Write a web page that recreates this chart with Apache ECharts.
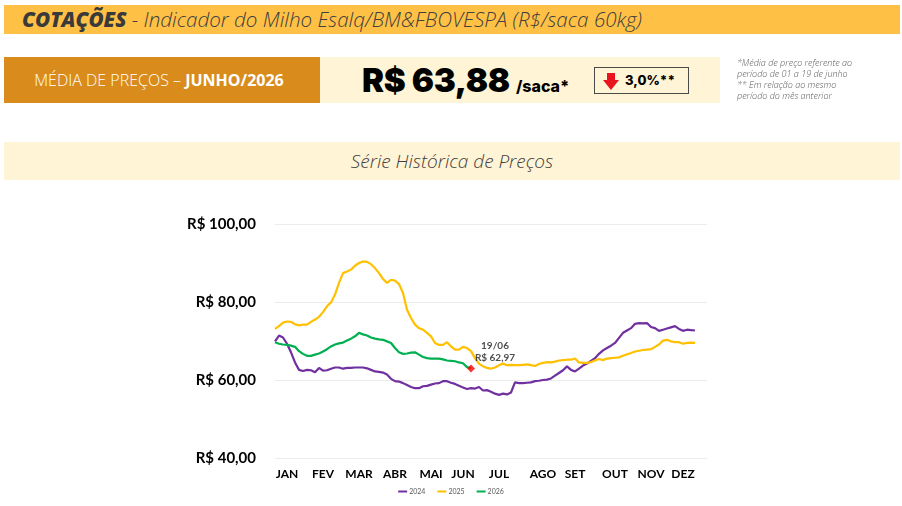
<!DOCTYPE html>
<html><head><meta charset="utf-8">
<script src="https://cdn.jsdelivr.net/npm/echarts@6/dist/echarts.min.js"></script>
<style>
html,body{margin:0;padding:0;width:902px;height:506px;background:#fff;overflow:hidden;font-family:"Open Sans",sans-serif;}
#chart{position:absolute;left:0;top:0;width:902px;height:506px;}
.abs{position:absolute;box-sizing:border-box;}
#hdr{left:4px;top:5px;width:896px;height:29px;background:#FFC046;}
#hdrText{left:22px;top:5px;height:29px;line-height:29px;font-size:20.6px;font-style:italic;color:#404040;white-space:nowrap;font-weight:300;}
#hdrText b{font-weight:800;color:#3a3a3a;}
#dark{left:4px;top:57px;width:316px;height:46px;background:#D98C1B;color:#fff;font-size:16px;line-height:46px;text-align:center;white-space:nowrap;padding-right:6px;}
#dark span{font-weight:300;}
#dark b{font-weight:700;}
#cream{left:320px;top:57px;width:400px;height:46px;background:#FFF4D5;}
#price{left:362px;top:57px;height:46px;line-height:46px;white-space:nowrap;color:#000;}
#price .big{font-family:Inter,sans-serif;font-weight:900;font-size:33px;letter-spacing:-0.3px;}
#price .small{font-family:Inter,sans-serif;font-weight:800;font-size:16px;margin-left:6px;}
#badge{left:594px;top:67px;width:95px;height:27px;border:1px solid #4a4a4a;}
#badge svg{position:absolute;left:8px;top:5px;}
#badge .t{position:absolute;left:30px;top:0;line-height:25px;font-family:Inter,sans-serif;font-weight:800;font-size:13px;color:#000;}
#notes{left:737px;top:57px;font-size:9px;font-style:italic;color:#595959;line-height:11px;white-space:nowrap;font-weight:300;}
#serie{left:4px;top:142px;width:896px;height:38px;background:#FFF4D5;color:#404040;font-style:italic;font-size:19px;line-height:38px;text-align:center;font-weight:300;}
</style></head>
<body>
<div id="chart"></div>
<div class="abs" id="hdr"></div>
<div class="abs" id="hdrText"><b>COTAÇÕES</b> - Indicador do Milho Esalq/BM&amp;FBOVESPA (R$/saca 60kg)</div>
<div class="abs" id="dark"><span>MÉDIA DE PREÇOS – </span><b>JUNHO/2026</b></div>
<div class="abs" id="cream"></div>
<div class="abs" id="price"><span class="big">R$ 63,88</span><span class="small">/saca*</span></div>
<div class="abs" id="badge"><svg width="16" height="17" viewBox="0 0 16 17"><polygon points="4,0 12,0 12,7 16,7 8,17 0,7 4,7" fill="#E8141E"/></svg><span class="t">3,0%**</span></div>
<div class="abs" id="notes">*Média de preço referente ao<br>período de 01 a 19 de junho<br>** Em relação ao mesmo<br>período do mês anterior</div>
<div class="abs" id="serie">Série Histórica de Preços</div>
<script>
// Month tick labels and their positions (trading-day index on the category axis)
const months = ['JAN','FEV','MAR','ABR','MAI','JUN','JUL','AGO','SET','OUT','NOV','DEZ'];
const monthIdx = [3,12,21,30,39,47,56,67,75,85,94,102];
const nDays = 109;

const s2024 = [69.9,71.4,70.9,69.3,67.1,64.5,62.6,62.3,62.6,62.5,62.0,63.1,62.4,62.5,62.9,63.2,63.2,62.9,63.1,63.1,
63.2,63.2,63.2,63.0,62.6,62.2,62.1,61.9,61.4,60.3,59.7,59.6,59.2,58.7,58.2,57.9,57.9,58.4,58.5,58.8,
59.1,59.2,59.7,59.7,59.3,59.0,58.5,58.1,57.7,57.9,57.8,58.2,57.3,57.4,57.0,56.5,56.2,56.5,56.3,56.8,
59.4,59.2,59.2,59.3,59.4,59.7,59.8,60.0,60.1,60.4,61.1,61.8,62.5,63.5,62.6,62.2,62.9,63.7,64.2,64.9,
65.6,66.7,67.6,68.2,68.8,69.5,70.8,72.1,72.7,73.3,74.4,74.6,74.5,74.6,73.6,73.3,72.6,72.9,73.2,73.5,
73.8,73.1,72.6,72.9,72.8,72.7];
const s2025 = [73.1,73.8,74.7,75.0,74.9,74.3,74.0,74.2,74.2,74.9,75.5,76.2,77.4,78.9,79.9,81.9,84.9,87.4,87.8,88.3,
89.3,90.0,90.4,90.3,89.7,88.7,87.4,85.9,84.9,85.7,85.5,84.6,82.3,78.0,75.9,74.2,73.3,72.9,72.1,71.2,
69.5,69.0,69.0,69.7,68.6,67.8,67.8,68.5,68.2,67.4,65.6,64.2,63.5,63.1,62.9,63.2,63.8,64.2,63.8,63.9,
63.8,63.8,63.9,64.0,63.8,63.6,64.1,64.4,64.6,64.5,64.7,65.0,65.1,65.2,65.2,65.5,64.5,64.4,64.4,64.6,
65.0,65.4,65.1,65.5,65.6,65.7,65.8,66.2,66.6,66.9,67.3,67.5,67.7,67.8,67.9,68.5,69.1,70.1,70.3,69.9,
69.7,69.7,69.3,69.5,69.6,69.5];
const s2026 = [69.7,69.3,69.1,69.0,68.8,68.5,67.4,66.7,66.2,66.2,66.5,66.8,67.3,67.9,68.6,69.1,69.4,69.6,70.1,70.6,
71.2,72.1,71.7,71.4,70.9,70.6,70.4,70.3,69.9,69.5,68.2,67.1,66.7,66.8,67.0,67.1,66.5,65.9,65.6,65.5,
65.5,65.5,65.3,65.0,64.9,64.8,64.5,64.3,63.3,63.0];
const markerIdx = 49;
const markerVal = 62.97;
const markerDate = '19/06';

const categories = Array.from({length: nDays}, (_, i) => String(i));
const fmtBRL = v => 'R$ ' + v.toFixed(2).replace('.', ',');

const chart = echarts.init(document.getElementById('chart'), null, {renderer: 'canvas'});
chart.setOption({
  animation: false,
  textStyle: {fontFamily: 'Lato, "Open Sans", sans-serif'},
  grid: {left: 275, right: 195, top: 224, bottom: 48},
  legend: {
    data: ['2024', '2025', '2026'],
    top: 488, left: 'center', icon: 'rect', itemWidth: 9, itemHeight: 2, itemGap: 12, padding: 0,
    textStyle: {fontSize: 7, color: '#595959', padding: [0, 0, 0, -3]}
  },
  xAxis: {
    type: 'category', data: categories, boundaryGap: false,
    axisLine: {show: false}, axisTick: {show: false}, splitLine: {show: false},
    axisLabel: {
      interval: (i) => monthIdx.includes(i),
      formatter: (v, i) => { const k = monthIdx.indexOf(Number(v)); return k >= 0 ? months[k] : ''; },
      fontSize: 12, fontWeight: 'bold', color: '#000', margin: 10
    }
  },
  yAxis: {
    type: 'value', min: 40, max: 100, interval: 20,
    axisLine: {show: false}, axisTick: {show: false},
    splitLine: {lineStyle: {color: '#ececec', width: 1}},
    axisLabel: {formatter: fmtBRL, fontSize: 15, fontWeight: 'bold', color: '#000', margin: 19}
  },
  series: [
    {name: '2024', type: 'line', data: s2024, showSymbol: false, color: '#7030A0', lineStyle: {width: 2.2}},
    {name: '2025', type: 'line', data: s2025, showSymbol: false, color: '#FFC000', lineStyle: {width: 2.2}},
    {name: '2026', type: 'line', data: s2026, showSymbol: false, color: '#00B050', lineStyle: {width: 2.2}, z: 3},
    {name: 'marker', type: 'scatter', data: [[markerIdx, markerVal]], symbol: 'diamond', symbolSize: 8,
      itemStyle: {color: '#FF0000'}, z: 5,
      label: {show: true, position: 'top', offset: [24, 4], formatter: () => markerDate + '\n' + fmtBRL(markerVal),
        fontSize: 10, fontWeight: 'bold', color: '#222', lineHeight: 12, align: 'center'}}
  ]
});
</script>
</body></html>
